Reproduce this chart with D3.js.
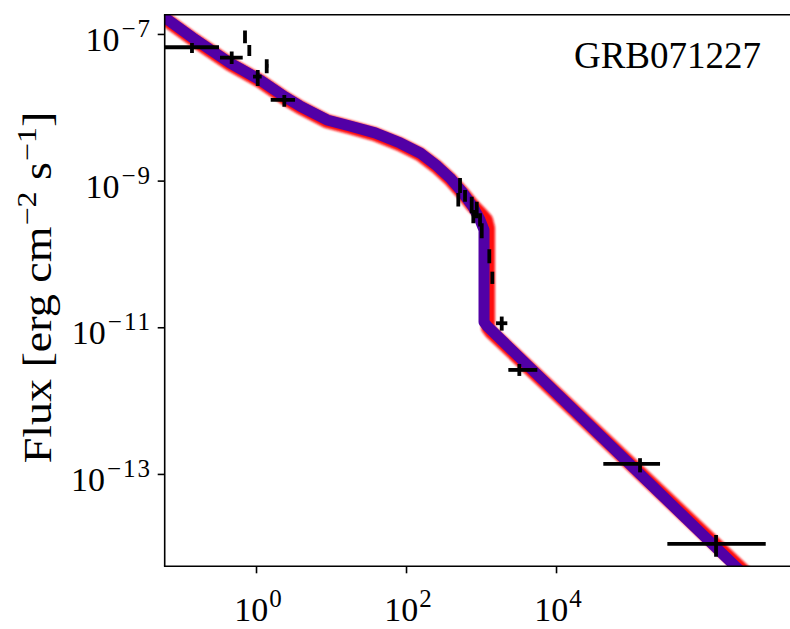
<!DOCTYPE html>
<html>
<head>
<meta charset="utf-8">
<script src="https://cdn.jsdelivr.net/npm/d3@7"></script>
<style>
  body { margin: 0; background: #fff; }
  svg text { font-family: "Liberation Serif", "DejaVu Serif", serif; fill: #000; }
</style>
</head>
<body>
<div id="chart"></div>
<script>
// model curve (median), time [s] and flux
const modelT = [0.0386, 0.1445, 0.450, 1.13, 2.44, 3.86, 8.84, 17.9, 38.6, 83.2, 153.7, 259, 386, 575, 782, 970, 1096, 1096, 1202, 2.436e6, 5.25e6];
const modelF = [2.33e-7, 8.82e-8, 4.02e-8, 2.36e-8, 1.38e-8, 1.04e-8, 6.71e-9, 5.56e-9, 4.47e-9, 3.26e-9, 2.38e-9, 1.585e-9, 1.087e-9, 6.79e-10, 4.38e-10, 2.91e-10, 2.12e-10, 1.18e-11, 1.04e-11, 5.56e-15, 2.62e-15];

// spread of the posterior curves (red envelope)
const envT = [0.0386, 0.1445, 0.450, 1.13, 2.44, 3.86, 8.84, 17.9, 38.6, 83.2, 153.7, 259, 386, 575, 782, 970, 1166, 1240, 1240, 1359, 2.84e6, 6.12e6];
const envF = [2.25e-7, 8.5e-8, 3.88e-8, 2.28e-8, 1.33e-8, 1.0e-8, 6.45e-9, 5.35e-9, 4.3e-9, 3.13e-9, 2.29e-9, 1.53e-9, 1.05e-9, 6.65e-10, 4.5e-10, 3.6e-10, 2.91e-10, 2.26e-10, 9.8e-12, 8.63e-12, 5.3e-15, 2.5e-15];

// observed points
const obsT   = [0.140, 0.474, 0.713, 0.814, 1.054, 1.389, 2.384, 524.8, 497.7, 612, 751, 789, 877, 970, 1022, 1290, 1415, 1888, 3241, 1.318e5, 1.36e6];
const obsTlo = [0.050, 0.331, 0.700, 0.790, 0.912, 1.320, 1.570, 510, 484, 596, 731, 768, 853, 944, 995, 1255, 1377, 1585, 2312, 4.27e4, 3.05e5];
const obsThi = [0.321, 0.665, 0.726, 0.840, 1.191, 1.460, 3.311, 540, 512, 629, 772, 811, 901, 997, 1050, 1326, 1454, 2242, 5632, 2.436e5, 6.25e6];
const obsF   = [6.59e-8, 4.76e-8, 9.1e-8, 5.96e-8, 2.62e-8, 3.66e-8, 1.26e-8, 8.59e-10, 5.48e-10, 6.22e-10, 4.66e-10, 3.22e-10, 3.98e-10, 2.91e-10, 2.07e-10, 9.30e-11, 4.73e-11, 1.135e-11, 2.62e-12, 1.37e-13, 1.11e-14];
const obsFlo = [5.51e-8, 3.90e-8, 7.47e-8, 5.01e-8, 1.95e-8, 2.91e-8, 1.02e-8, 6.79e-10, 4.42e-10, 5.16e-10, 3.59e-10, 2.62e-10, 3.07e-10, 2.36e-10, 1.64e-10, 7.46e-11, 3.90e-11, 9.0e-12, 2.17e-12, 1.05e-13, 7.45e-15];
const obsFhi = [7.54e-8, 5.74e-8, 1.11e-7, 7.08e-8, 3.23e-8, 4.52e-8, 1.47e-8, 1.087e-9, 6.79e-10, 7.46e-10, 6.04e-10, 3.98e-10, 5.16e-10, 3.59e-10, 2.62e-10, 1.16e-10, 5.73e-11, 1.40e-11, 3.16e-12, 1.64e-13, 1.47e-14];

const xTicks = [1, 1e2, 1e4];
const xTickExp = ["0", "2", "4"];
const yTicks = [1e-7, 1e-9, 1e-11, 1e-13];
const yTickExp = ["\u22127", "\u22129", "\u221211", "\u221213"];

const grbName = "GRB071227";

const W = 790, H = 629;
const plot = { left: 164.7, top: 14.7, right: 800, bottom: 566.3 };

const svg = d3.select("#chart").append("svg")
    .attr("width", W)
    .attr("height", H);

const x = d3.scaleLog().domain([0.0606, 1.79e7]).range([plot.left, plot.right]);
const y = d3.scaleLog().domain([1.83e-7, 5.5e-15]).range([plot.top, plot.bottom]);

const defs = svg.append("defs");
defs.append("clipPath").attr("id", "plotclip")
  .append("rect")
    .attr("x", plot.left).attr("y", plot.top)
    .attr("width", plot.right - plot.left)
    .attr("height", plot.bottom - plot.top);
defs.append("filter").attr("id", "soft")
    .attr("x", "-10%").attr("y", "-10%").attr("width", "120%").attr("height", "120%")
  .append("feGaussianBlur").attr("stdDeviation", 1.1);

const g = svg.append("g").attr("clip-path", "url(#plotclip)");

const line = d3.line()
    .x(d => x(d[0]))
    .y(d => y(d[1]));

// red envelope
g.append("path")
    .datum(envT.map((t, i) => [t, envF[i]]))
    .attr("d", line)
    .attr("fill", "none")
    .attr("stroke", "#ff1010")
    .attr("stroke-width", 14)
    .attr("stroke-linejoin", "round")
    .attr("filter", "url(#soft)");

// purple core
g.append("path")
    .datum(modelT.map((t, i) => [t, modelF[i]]))
    .attr("d", line)
    .attr("fill", "none")
    .attr("stroke", "#5200a6")
    .attr("stroke-width", 11)
    .attr("stroke-linejoin", "round");

// error bars
const pts = obsT.map((t, i) => ({
    t: t, tlo: obsTlo[i], thi: obsThi[i],
    f: obsF[i], flo: obsFlo[i], fhi: obsFhi[i]
}));
const eb = g.append("g").attr("stroke", "#000").attr("stroke-width", 3.8);
eb.selectAll("line.h").data(pts).enter().append("line")
    .attr("class", "h")
    .attr("x1", d => x(d.tlo)).attr("x2", d => x(d.thi))
    .attr("y1", d => y(d.f)).attr("y2", d => y(d.f));
eb.selectAll("line.v").data(pts).enter().append("line")
    .attr("class", "v")
    .attr("x1", d => x(d.t)).attr("x2", d => x(d.t))
    .attr("y1", d => y(d.fhi)).attr("y2", d => y(d.flo));

// spines
const spine = svg.append("g").attr("stroke", "#000").attr("stroke-width", 1.6).attr("fill", "none");
spine.append("line").attr("x1", plot.left).attr("x2", plot.left).attr("y1", plot.top).attr("y2", plot.bottom);
spine.append("line").attr("x1", plot.left - 0.8).attr("x2", plot.right).attr("y1", plot.top).attr("y2", plot.top);
spine.append("line").attr("x1", plot.left - 0.8).attr("x2", plot.right).attr("y1", plot.bottom).attr("y2", plot.bottom);

// axes (ticks only, labels drawn with superscripts below)
const xAxis = svg.append("g")
    .attr("transform", `translate(0,${plot.bottom})`)
    .call(d3.axisBottom(x).tickValues(xTicks).tickSize(7).tickFormat(() => ""));
const yAxis = svg.append("g")
    .attr("transform", `translate(${plot.left},0)`)
    .call(d3.axisLeft(y).tickValues(yTicks).tickSize(7).tickFormat(() => ""));
[xAxis, yAxis].forEach(a => {
    a.select(".domain").remove();
    a.selectAll(".tick line").attr("stroke", "#000").attr("stroke-width", 1.6);
});

xTicks.forEach((t, i) => {
    const txt = svg.append("text")
        .attr("x", x(t) + 2)
        .attr("y", 621)
        .attr("text-anchor", "middle")
        .attr("font-size", 34);
    txt.append("tspan").text("10");
    txt.append("tspan").attr("dy", -14).attr("dx", 1).attr("font-size", 25).text(xTickExp[i]);
});

yTicks.forEach((t, i) => {
    const txt = svg.append("text")
        .attr("x", 152)
        .attr("y", y(t) + 17)
        .attr("text-anchor", "end")
        .attr("font-size", 34);
    txt.append("tspan").text("10");
    txt.append("tspan").attr("dy", -14).attr("dx", 2).attr("font-size", 25)
        .attr("letter-spacing", 2).text(yTickExp[i]);
});

// y axis label (stretched a little along its length, like the TeX font)
const yl = svg.append("text")
    .attr("transform", `translate(51,${(plot.top + plot.bottom) / 2 - 3}) rotate(-90) scale(1.18,1)`)
    .attr("text-anchor", "middle")
    .attr("font-size", 39);
yl.append("tspan").text("Flux [erg cm");
yl.append("tspan").attr("dy", -15).attr("dx", 1).attr("font-size", 27).text("\u22122");
yl.append("tspan").attr("dy", 15).text(" s");
yl.append("tspan").attr("dy", -15).attr("dx", 1).attr("font-size", 27).text("\u22121");
yl.append("tspan").attr("dy", 15).text("]");

// GRB name
svg.append("text")
    .attr("x", 761)
    .attr("y", 68)
    .attr("text-anchor", "end")
    .attr("font-size", 37)
    .text(grbName);
</script>
</body>
</html>
